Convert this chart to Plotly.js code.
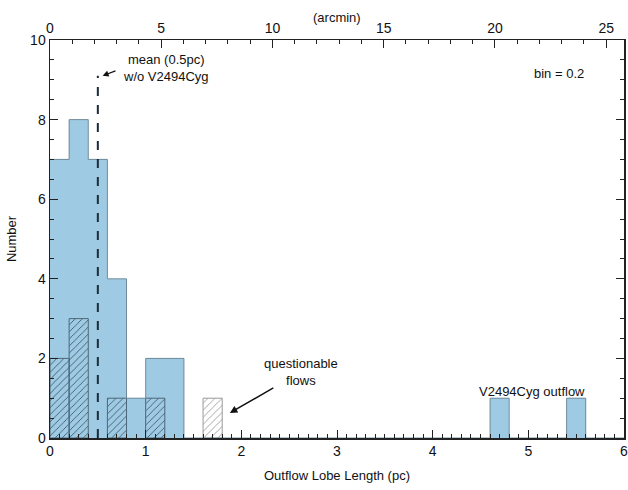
<!DOCTYPE html>
<html><head><meta charset="utf-8">
<script src="https://cdn.plot.ly/plotly-3.0.1.min.js"></script>
<style>body{margin:0;background:#fff}#c{width:628px;height:490px}</style>
</head><body><div id="c"></div>
<script>
// bin centers (pc), bin width 0.2
const allCenters = [0.1, 0.3, 0.5, 0.7, 0.9, 1.1, 1.3, 4.7, 5.5];
const allCounts  = [7, 8, 7, 4, 1, 2, 2, 1, 1];
const hatchCenters = [0.1, 0.3, 0.7, 1.1];
const hatchCounts  = [2, 3, 1, 1];
const questCenters = [1.7];
const questCounts  = [1];
const meanX = [0.5, 0.5];
const meanY = [0, 9.1];
const binWidth = 0.2;
const arcminPerPc = 4.3;

// step outline of the full histogram, built from the bins above
const stepX = [], stepY = [];
for (let i = 0; i <= 30; i++) {
  const left = +(i * binWidth).toFixed(2);
  const k = allCenters.findIndex(c => Math.abs(c - (left + binWidth / 2)) < 1e-6);
  stepX.push(left);
  stepY.push(k >= 0 ? allCounts[k] : 0);
}

const blue = '#9ecae3';
const font = {family: 'Liberation Sans, Arial, sans-serif', size: 13, color: '#111'};
const tickfont = {family: 'Liberation Sans, Arial, sans-serif', size: 14, color: '#111'};

const traces = [
  {type:'bar', x: allCenters, y: allCounts, width: binWidth,
   marker:{color: blue, line:{width:0}}, xaxis:'x', yaxis:'y'},
  {type:'scatter', mode:'lines', x: stepX, y: stepY, line:{shape:'hv', color:'#6f8a9a', width:1},
   xaxis:'x', yaxis:'y', hoverinfo:'skip'},
  {type:'bar', x: hatchCenters, y: hatchCounts, width: binWidth,
   marker:{color: blue, line:{color:'#4d6778', width:1},
     pattern:{shape:'/', fgcolor:'#2e4658', size:5, solidity:0.15}}, xaxis:'x', yaxis:'y'},
  {type:'bar', x: questCenters, y: questCounts, width: binWidth,
   marker:{color:'#ffffff', line:{color:'#9a9a9a', width:1},
     pattern:{shape:'/', fgcolor:'#8a8a8a', size:5, solidity:0.15}}, xaxis:'x', yaxis:'y'},
  {type:'scatter', mode:'lines', x: meanX, y: meanY,
   line:{color:'#1c2c3a', width:2, dash:'dash'}, xaxis:'x', yaxis:'y', hoverinfo:'skip'},
  {type:'scatter', mode:'markers', x:[0], y:[0], marker:{opacity:0}, xaxis:'x2', yaxis:'y', hoverinfo:'skip'}
];

const layout = {
  width: 628, height: 490,
  margin: {l: 50, r: 4, t: 40, b: 52},
  paper_bgcolor: '#fff', plot_bgcolor: '#fff',
  showlegend: false, barmode: 'overlay', bargap: 0,
  font: font,
  xaxis: {range:[0, 6], dtick:1, tick0:0, ticks:'inside', ticklen:8, tickcolor:'#222',
    showline:true, linecolor:'#222', linewidth:1.5, showgrid:false, zeroline:false,
    ticklabeloverflow:'allow',
    minor:{dtick:0.1, ticks:'inside', ticklen:4, tickcolor:'#222'},
    title:{text:'Outflow Lobe Length (pc)', font:font, standoff:12}, tickfont:tickfont},
  xaxis2: {overlaying:'x', side:'top', range:[0, 6*arcminPerPc], dtick:5, tick0:0,
    ticks:'inside', ticklen:8, tickcolor:'#222', showline:true, linecolor:'#222', linewidth:1.5,
    showgrid:false, zeroline:false, ticklabeloverflow:'allow',
    minor:{dtick:1, ticks:'inside', ticklen:4, tickcolor:'#222'},
    tickfont:tickfont},
  yaxis: {range:[0, 10], dtick:2, tick0:0, ticks:'inside', ticklen:8, tickcolor:'#222',
    showline:true, linecolor:'#222', linewidth:1.5, mirror:'ticks', showgrid:false, zeroline:false,
    minor:{dtick:0.5, ticks:'inside', ticklen:4, tickcolor:'#222'},
    title:{text:'Number', font:font, standoff:10}, tickfont:tickfont},
  annotations: [
    {text:'(arcmin)', xref:'paper', yref:'paper', x:0.5, y:1, yshift:32, showarrow:false, font:font},
    {text:'mean (0.5pc)<br>w/o V2494Cyg', xref:'x', yref:'y', x:1.21, y:9.3,
     showarrow:false, align:'center', font:font},
    {text:'', xref:'x', yref:'y', x:0.55, y:9.1, ax:0.7, ay:9.24, axref:'x', ayref:'y',
     showarrow:true, arrowhead:2, arrowsize:1, arrowwidth:1.2, arrowcolor:'#111'},
    {text:'bin = 0.2', xref:'x', yref:'y', x:5.32, y:9.17, showarrow:false, font:font},
    {text:'questionable<br>flows', xref:'x', yref:'y', x:2.62, y:1.66, showarrow:false, font:font},
    {text:'', xref:'x', yref:'y', x:1.88, y:0.63, ax:2.35, ay:1.28, axref:'x', ayref:'y',
     showarrow:true, arrowhead:2, arrowsize:1, arrowwidth:1.5, arrowcolor:'#111'},
    {text:'V2494Cyg outflow', xref:'x', yref:'y', x:5.04, y:1.16, showarrow:false, font:font}
  ]
};

Plotly.newPlot('c', traces, layout, {staticPlot:true, displayModeBar:false});
</script></body></html>
